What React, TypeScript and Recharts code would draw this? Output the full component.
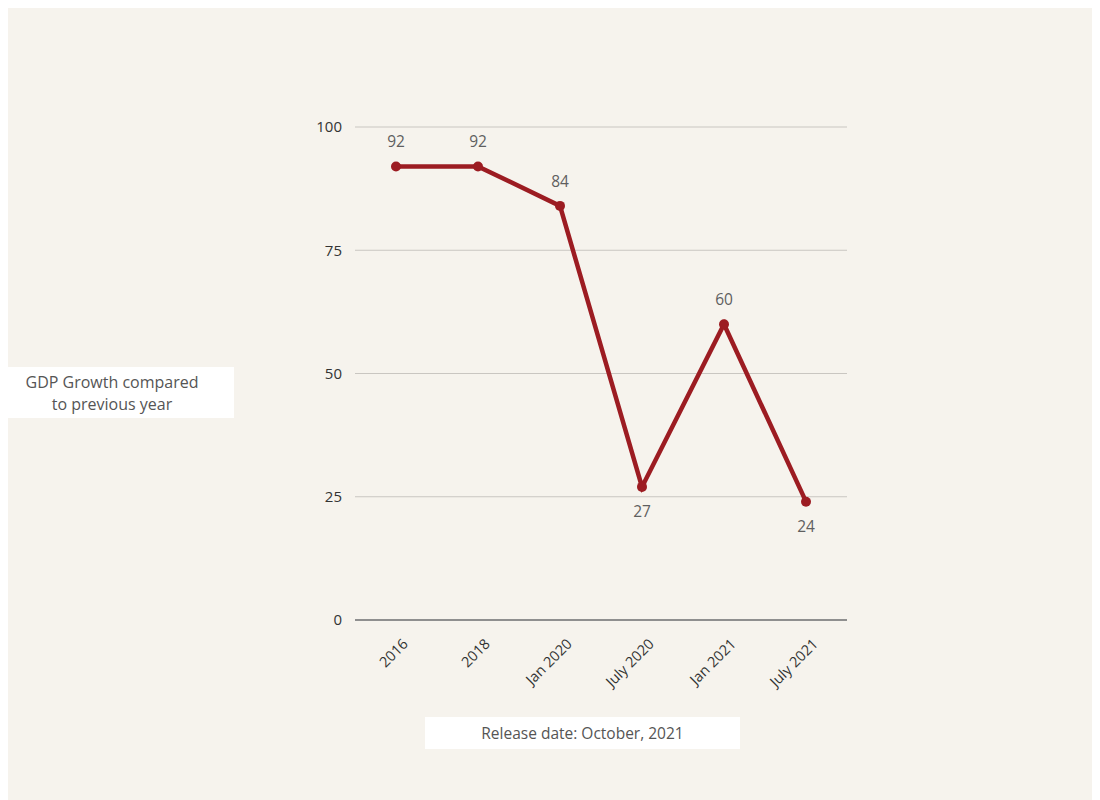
import { LineChart, Line, XAxis, YAxis, CartesianGrid, LabelList } from 'recharts';

const periods = ['2016', '2018', 'Jan 2020', 'July 2020', 'Jan 2021', 'July 2021'];
const growth = [92, 92, 84, 27, 60, 24];
const yTicks = [0, 25, 50, 75, 100];

const data = periods.map((period, i) => ({ period, growth: growth[i] }));

const FONT = '"Open Sans", "Noto Sans", sans-serif';
const RED = '#9c1c22';

// label goes under the point when it is a local low
const isLow = (i: number) => {
  const v = growth[i];
  const prev = i > 0 ? growth[i - 1] : Infinity;
  const next = i < growth.length - 1 ? growth[i + 1] : Infinity;
  return v < prev && v < next;
};

const PointLabel = (props: any) => {
  const { x, y, value, index } = props;
  const below = isLow(index);
  return (
    <text
      x={x}
      y={below ? y + 24 : y - 25}
      textAnchor="middle"
      dominantBaseline="central"
      fontSize={15.5}
      fontFamily={FONT}
      fill="#5f5f5f"
    >
      {value}
    </text>
  );
};

const XTick = ({ x, y, payload }: any) => (
  <g transform={`translate(${x + 9},${y + 13})`}>
    <text
      transform="rotate(-45)"
      textAnchor="end"
      dominantBaseline="central"
      fontSize={14.5}
      fontFamily={FONT}
      fill="#333"
    >
      {payload.value}
    </text>
  </g>
);

export default function App() {
  return (
    <div
      style={{
        position: 'relative',
        width: 1092,
        height: 792,
        background: '#f6f3ed',
        fontFamily: FONT,
      }}
    >
      <LineChart
        width={1092}
        height={792}
        data={data}
        margin={{ top: 119, right: 253, left: 287, bottom: 120 }}
      >
        <CartesianGrid vertical={false} stroke="#c9c6c1" />
        <XAxis
          dataKey="period"
          padding={{ left: 41, right: 41 }}
          height={60}
          interval={0}
          tickLine={false}
          axisLine={{ stroke: '#8f8f8f', strokeWidth: 2 }}
          tick={<XTick />}
        />
        <YAxis
          width={60}
          domain={[0, 100]}
          ticks={yTicks}
          axisLine={false}
          tickLine={false}
          tickMargin={7}
          tick={{ fontSize: 15, fill: '#333', fontFamily: FONT }}
        />
        <Line
          type="linear"
          dataKey="growth"
          stroke={RED}
          strokeWidth={4.5}
          dot={{ r: 5, fill: RED, stroke: RED, strokeWidth: 0 }}
          activeDot={false}
          isAnimationActive={false}
        >
          <LabelList dataKey="growth" content={<PointLabel />} />
        </Line>
      </LineChart>
      <div
        style={{
          position: 'absolute',
          left: 0,
          top: 359,
          width: 208,
          paddingRight: 18,
          height: 51,
          background: '#fff',
          color: '#555',
          fontSize: 16,
          lineHeight: '22px',
          textAlign: 'center',
          display: 'flex',
          alignItems: 'center',
          justifyContent: 'center',
        }}
      >
        GDP Growth compared
        <br />
        to previous year
      </div>
      <div
        style={{
          position: 'absolute',
          left: 417,
          top: 709,
          width: 315,
          height: 32,
          background: '#fff',
          color: '#555',
          fontSize: 15.5,
          lineHeight: '32px',
          textAlign: 'center',
        }}
      >
        Release date: October, 2021
      </div>
    </div>
  );
}
